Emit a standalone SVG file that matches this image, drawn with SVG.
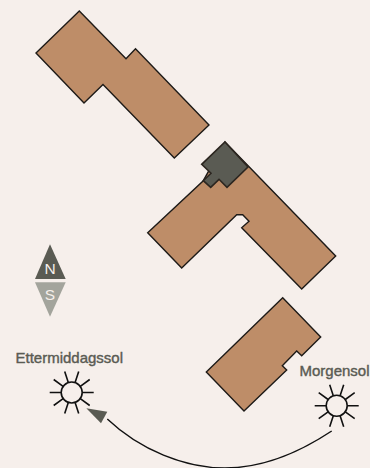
<svg xmlns="http://www.w3.org/2000/svg" width="370" height="468" viewBox="0 0 370 468">
<style>
.b{fill:#be8d68;stroke:#1d1a17;stroke-width:1.4;stroke-linejoin:miter}
.d{fill:#5a5b53;stroke:#2c2620;stroke-width:1.6}
.t{font-family:"Liberation Sans",Arial,sans-serif;font-size:15px;fill:#5a5b53;stroke:#5a5b53;stroke-width:.4}
.c{font-family:"Liberation Sans",Arial,sans-serif;font-size:15.500px;fill:#f6efeb;text-anchor:middle}
.sc{fill:#f6efeb;stroke:#111;stroke-width:1.6}
.sr{stroke:#111;stroke-width:1.6;fill:none}
</style>
<defs>
<g id="sun">
<path class="sr" d="M10.5 0H22M-10.5 0H-22M8.600 6.200L18 13M-8.600 6.200L-18 13M8.600 -6.200L18 -13M-8.600 -6.200L-18 -13M3.400 10L7 21M-3.400 10L-7 21M3.400 -10L7 -21M-3.400 -10L-7 -21"/>
<circle class="sc" r="10.5"/>
</g>
</defs>
<rect width="370" height="468" fill="#f6efeb"/>
<g id="building-1"><path class="b" d="M79.300 11L126 58.700L135.500 48.800L209 125L174.300 158L103 84.500L84 103L36 53Z"/></g>
<g id="building-2"><path class="b" d="M225 142L335.700 256L301.700 289L241.700 227.700L249 221.300L242.700 214.700H236.700L181.700 268L147.700 232.700L203.300 180.700Z"/>
<path class="d" d="M225 142L248 167L227 187.300L219 179.300L210.700 187.300L203.300 180.700L211 173.300L201.700 164.300Z"/></g>
<g id="building-3"><path class="b" d="M282.700 297.700L320.700 337L301.700 355.700L296.700 351L282.300 365.700L286.700 370L244 411L206.300 372Z"/></g>
<g id="compass">
<path d="M50 244.300L65.700 279H35Z" fill="#5a5b53"/>
<path d="M35 282.300H65.700L50 316.700Z" fill="#a3a49c"/>
<text class="c" x="50" y="274">N</text>
<text class="c" x="50" y="299.500">S</text>
</g>
<g id="sun-afternoon"><use href="#sun" x="71.700" y="392.500"/></g>
<g id="sun-morning"><use href="#sun" x="336.700" y="405.700"/></g>
<g id="label-afternoon"><text class="t" x="15.500" y="362.500">Ettermiddagssol</text></g>
<g id="label-morning"><text class="t" x="299.500" y="376">Morgensol</text></g>
<g id="connectors">
<path d="M331.700 431C300 452 265 468 225 468C185 468 140 450 107.300 419" fill="none" stroke="#111" stroke-width="1.400"/>
<path d="M86.300 408.300L107.300 411.700L101 423.300Z" fill="#5a5b53"/>
</g>
</svg>
